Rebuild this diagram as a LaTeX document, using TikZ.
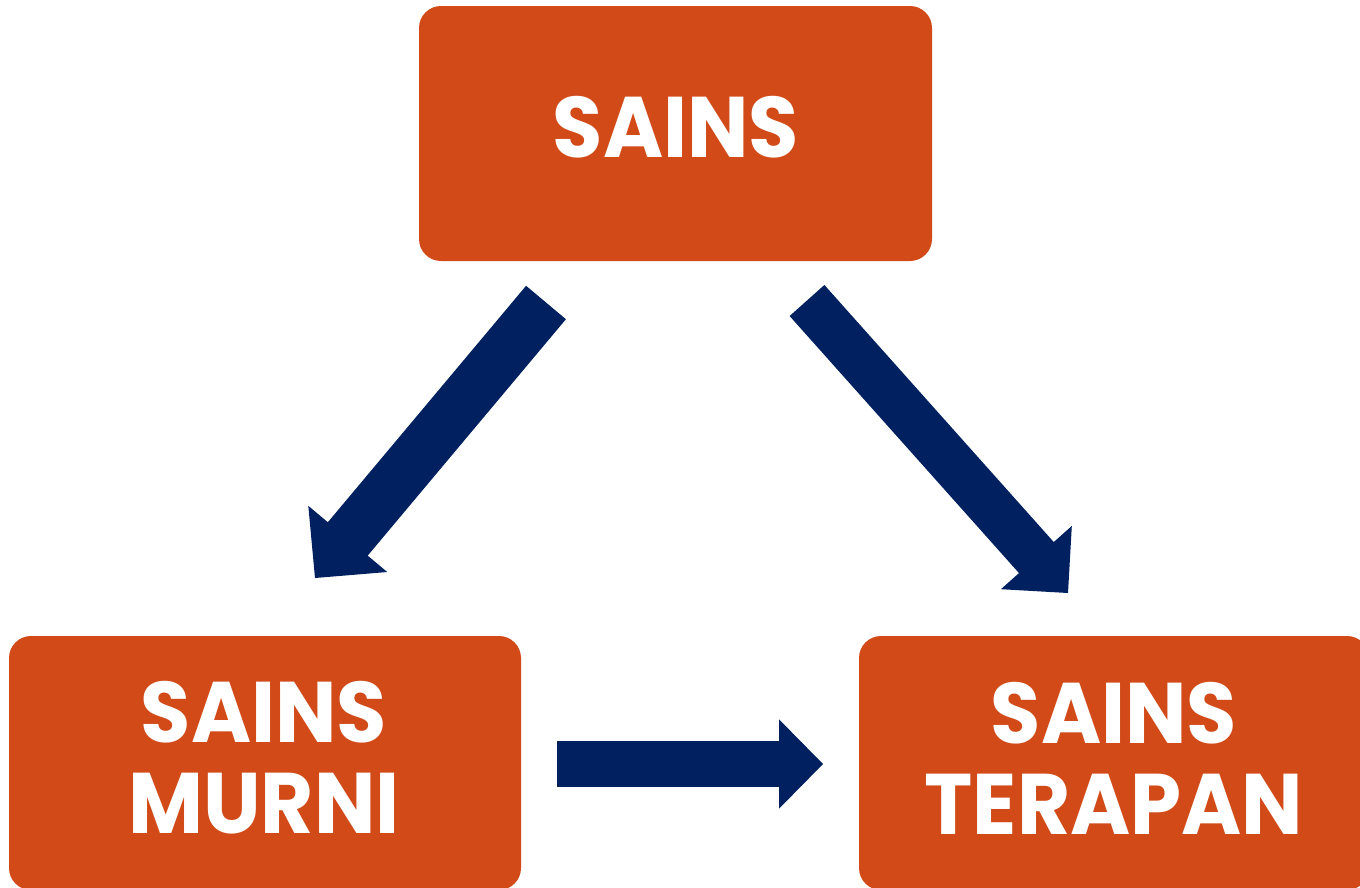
\documentclass[tikz,border=0pt]{standalone}
\usepackage{fontspec}
\setmainfont{Poppins}[FakeStretch=0.95]
\usetikzlibrary{calc}
\definecolor{boxorange}{HTML}{D14A18}
\definecolor{arrownavy}{HTML}{002060}
\tikzset{
  box/.style={fill=boxorange, rounded corners=22pt, draw=none},
  lbl/.style={text=white, font=\fontsize{86}{91}\selectfont\bfseries, align=center, inner sep=0pt},
}
% block arrow: tail, tip, shaft half width, head half width, head length, name
\newcommand{\blockarr}[6]{%
  \coordinate (#6h) at ($(#2)!#5pt!(#1)$);
  \fill[arrownavy] ($(#1)!#3pt!90:(#2)$) -- ($(#6h)!#3pt!-90:(#1)$)
    -- ($(#6h)!#4pt!-90:(#1)$) -- (#2) -- ($(#6h)!#4pt!90:(#1)$)
    -- ($(#6h)!#3pt!90:(#1)$) -- ($(#1)!#3pt!-90:(#2)$) -- cycle;
}
\begin{document}
\begin{tikzpicture}[x=1pt,y=-1pt]
\useasboundingbox (0,0) rectangle (1360,887);
\clip (0,0) rectangle (1360,887);
% boxes
\node[box, minimum width=513pt, minimum height=255pt] (top) at (675.5,133.5) {};
\node[box, minimum width=512pt, minimum height=254pt] (left) at (265,763) {};
\node[box, minimum width=510pt, minimum height=254pt] (right) at (1114,763) {};
% labels
\node[lbl, anchor=base] (ttop) at (676,157) {SAINS};
\node[lbl] (tleft) at (264,758) {SAINS\\MURNI};
\node[lbl] (tright) at (1114,758) {SAINS\\TERAPAN};
% arrows
\coordinate (a1s) at (546,302.5);
\coordinate (a1e) at (315,578);
\coordinate (a2s) at (807,300.5);
\coordinate (a2e) at (1068,593);
\coordinate (a3s) at (557,764);
\coordinate (a3e) at (823,764);
\blockarr{a1s}{a1e}{26}{51.5}{51}{aa}
\blockarr{a2s}{a2e}{23.3}{47.5}{47.5}{ab}
\blockarr{a3s}{a3e}{22.8}{44.7}{44}{ac}
\end{tikzpicture}
\end{document}
